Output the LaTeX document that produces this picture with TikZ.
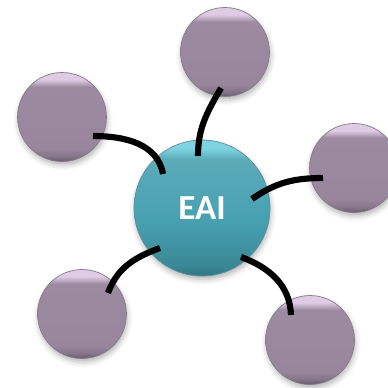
\documentclass[tikz,border=0pt]{standalone}
\usepackage{fontspec}
\setmainfont{Carlito}
\usetikzlibrary{calc,shadows.blur}

\definecolor{mauve}{RGB}{152,134,156}
\definecolor{mauvehi}{RGB}{222,204,228}
\definecolor{mauvelo}{RGB}{104,90,108}
\definecolor{hubmid}{RGB}{70,160,176}
\definecolor{hubhi}{RGB}{128,212,226}
\definecolor{hublo}{RGB}{48,118,132}

% bevelled fills: dark rim at the bottom, light rim at the top
\pgfdeclareverticalshading{satshade}{100bp}{color(0bp)=(mauvelo); color(25bp)=(mauvelo);
  color(28bp)=(mauve!88!black); color(32bp)=(mauve); color(67bp)=(mauve!96!white);
  color(71bp)=(mauvehi); color(75bp)=(mauvehi); color(100bp)=(mauvehi)}
\pgfdeclareverticalshading{hubshade}{100bp}{color(0bp)=(hublo); color(25bp)=(hublo);
  color(29bp)=(hubmid!85!black); color(45bp)=(hubmid); color(68bp)=(hubmid!88!white);
  color(72bp)=(hubhi); color(75bp)=(hubhi); color(100bp)=(hubhi)}

\begin{document}
\begin{tikzpicture}[
    x=0.02cm, y=0.02cm,
    soft/.style={blur shadow={shadow xshift=0.5pt, shadow yshift=-2pt,
        shadow blur radius=3pt, shadow opacity=30}},
    hub/.style={circle, soft, minimum size=2.72cm, inner sep=0pt, shading=hubshade,
        draw=hublo!80, line width=0.4pt, text=white, font=\fontsize{20}{24}\selectfont\bfseries},
    sat/.style={circle, soft, minimum size=1.78cm, inner sep=0pt, shading=satshade,
        draw=mauvelo!80, line width=0.4pt},
    link/.style={line width=3.5pt, black},
  ]
    \useasboundingbox (0,0) rectangle (388,387);
    \clip (0,0) rectangle (388,387);

    % ---------- outer circles ----------
    \node[sat] (top)   at (225,335) {};
    \node[sat] (left)  at (62,270)  {};
    \node[sat] (right) at (354,219) {};
    \node[sat] (botl)  at (82,73)   {};
    \node[sat] (botr)  at (310,47)  {};

    % ---------- centre ----------
    \node[hub] (eai) at (202,179) {EAI};

    % ---------- links ----------
    \coordinate (ts)  at ($(top)+(-4,-36)$);   \coordinate (th)  at ($(eai)+(-4,52)$);
    \coordinate (ls)  at ($(left)+(31,-19)$);  \coordinate (lh)  at ($(eai)+(-39,34)$);
    \coordinate (rs)  at ($(right)+(-31,-10)$); \coordinate (rh) at ($(eai)+(50,9)$);
    \coordinate (bls) at ($(botl)+(26,21)$);   \coordinate (blh) at ($(eai)+(-42,-40)$);
    \coordinate (brs) at ($(botr)+(-19,25)$);  \coordinate (brh) at ($(eai)+(39,-49)$);
    \foreach \s/\h/\o/\i in {ts/th/240/90, ls/lh/0/100, rs/rh/180/35, bls/blh/70/200, brs/brh/92/-20}
      \draw[link] (\s) to[out=\o, in=\i] (\h);
\end{tikzpicture}
\end{document}
